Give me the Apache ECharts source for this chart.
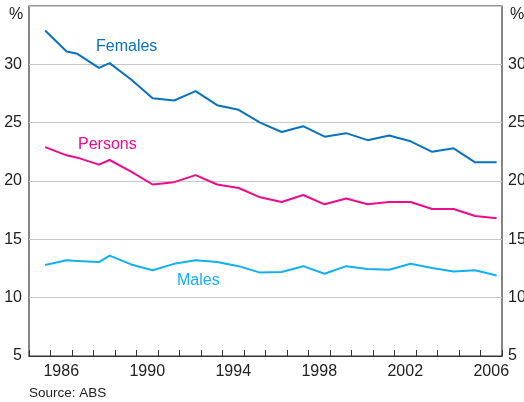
<!DOCTYPE html>
<html>
<head>
<meta charset="utf-8">
<script src="https://cdn.jsdelivr.net/npm/echarts@6/dist/echarts.min.js"></script>
<style>
  html, body { margin: 0; padding: 0; background: #fff; }
  #chart { width: 524px; height: 402px; }
</style>
</head>
<body>
<div id="chart"></div>
<script>
// 数据：观测时间（年份小数）和三条序列
const dates = [1985.75, 1986.75, 1987.25, 1988.25, 1988.75, 1989.75, 1990.75, 1991.75, 1992.75, 1993.75, 1994.75,
  1995.75, 1996.75, 1997.75, 1998.75, 1999.75, 2000.75, 2001.75, 2002.75, 2003.75, 2004.75, 2005.75, 2006.75]
const females = [32.9, 31.1, 30.9, 29.7, 30.1, 28.7, 27.1, 26.9, 27.7, 26.5, 26.1,
  25.0, 24.2, 24.7, 23.8, 24.1, 23.5, 23.9, 23.4, 22.5, 22.8, 21.6, 21.6]
const persons = [22.9, 22.2, 22.0, 21.4, 21.8, 20.8, 19.7, 19.9, 20.5, 19.7, 19.4,
  18.6, 18.2, 18.8, 18.0, 18.5, 18.0, 18.2, 18.2, 17.6, 17.6, 17.0, 16.8]
const males = [12.8, 13.2, 13.15, 13.05, 13.6, 12.85, 12.35, 12.9, 13.2, 13.05, 12.7,
  12.15, 12.2, 12.7, 12.05, 12.7, 12.45, 12.4, 12.9, 12.55, 12.25, 12.35, 11.9]
// 年份刻度标签（每格一年）
const years = []
for (let y = 1985; y <= 2006; y++) years.push(String(y))

const font = 'Liberation Sans'
const pair = (vals) => dates.map((d, i) => [d, vals[i]])

const chartDom = document.getElementById('chart')
const myChart = echarts.init(chartDom)

const yAxisBase = {
  type: 'value',
  min: 5,
  max: 35,
  interval: 5,
  axisLine: { show: false },
  axisTick: { show: false },
  splitLine: { lineStyle: { color: '#c8c8c8', width: 1 } },
  axisLabel: {
    color: '#222',
    fontFamily: font,
    fontSize: 16,
    formatter: (v) => (v === 35 ? '' : v)
  }
}

const option = {
  animation: false,
  grid: {
    left: 29, right: 22, top: 6, bottom: 46,
    outerBoundsMode: 'none',
    containLabel: false,
    show: true,
    borderColor: '#333',
    borderWidth: 1.2
  },
  xAxis: [
    {
      // 数值轴：画线和刻度
      type: 'value',
      min: 1985,
      max: 2007,
      interval: 1,
      axisLine: { show: true, lineStyle: { color: '#333', width: 1.2 } },
      axisTick: { show: true, inside: true, length: 6, lineStyle: { color: '#333' } },
      axisLabel: { show: false },
      splitLine: { show: false }
    },
    {
      // 类目轴：只负责年份标签，居中于每一年
      type: 'category',
      data: years,
      boundaryGap: true,
      position: 'bottom',
      axisLine: { show: false },
      axisTick: { show: false },
      splitLine: { show: false },
      axisLabel: {
        color: '#222',
        fontFamily: font,
        fontSize: 16,
        margin: 8,
        interval: (idx) => (idx - 1) % 4 === 0
      }
    }
  ],
  yAxis: [
    Object.assign({}, yAxisBase, { position: 'left', axisLabel: Object.assign({}, yAxisBase.axisLabel, { margin: 7 }) }),
    Object.assign({}, yAxisBase, { position: 'right', splitLine: { show: false }, axisLabel: Object.assign({}, yAxisBase.axisLabel, { margin: 6 }) })
  ],
  series: [
    { name: 'Females', type: 'line', data: pair(females), symbol: 'none', lineStyle: { color: '#0a72bd', width: 2 } },
    { name: 'Persons', type: 'line', data: pair(persons), symbol: 'none', lineStyle: { color: '#ec0c8c', width: 2 } },
    { name: 'Males', type: 'line', data: pair(males), symbol: 'none', lineStyle: { color: '#12b0ec', width: 2 } }
  ],
  graphic: [
    { type: 'text', left: 9, top: 7, style: { text: '%', fill: '#222', font: '16px ' + font } },
    { type: 'text', left: 510, top: 7, style: { text: '%', fill: '#222', font: '16px ' + font } },
    { type: 'text', left: 96, top: 39, style: { text: 'Females', fill: '#0a72bd', font: '16px ' + font } },
    { type: 'text', left: 78, top: 137, style: { text: 'Persons', fill: '#ec0c8c', font: '16px ' + font } },
    { type: 'text', left: 177, top: 273, style: { text: 'Males', fill: '#12b0ec', font: '16px ' + font } },
    { type: 'text', left: 29, top: 386, style: { text: 'Source: ABS', fill: '#222', font: '13.5px ' + font } }
  ]
}

option && myChart.setOption(option)
</script>
</body>
</html>
